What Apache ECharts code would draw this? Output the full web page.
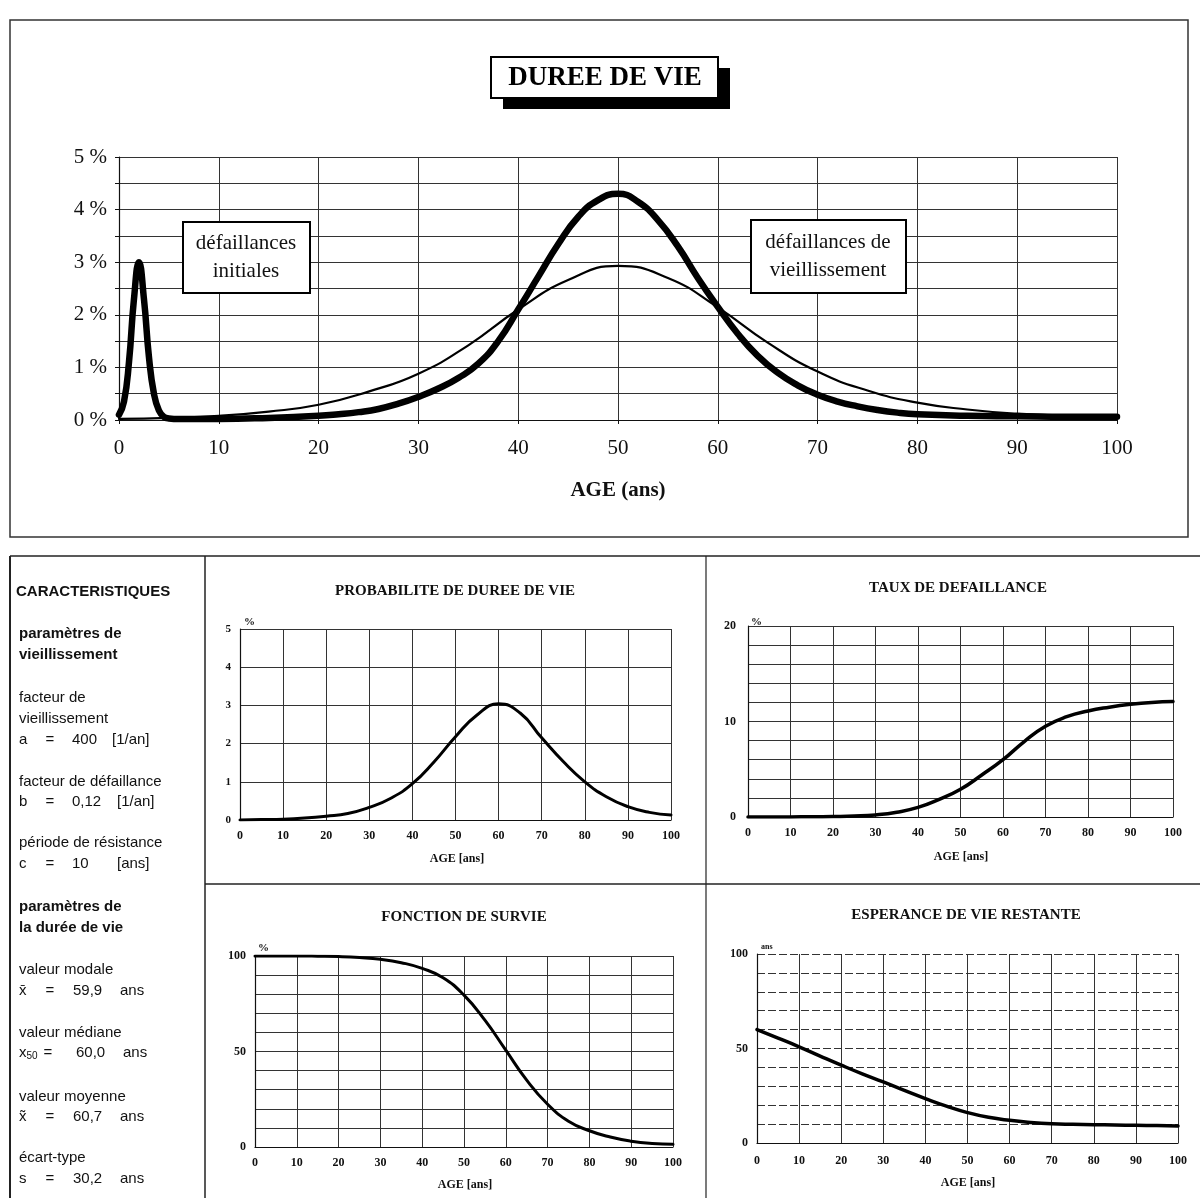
<!DOCTYPE html>
<html><head><meta charset="utf-8">
<script src="https://cdn.jsdelivr.net/npm/echarts@6/dist/echarts.min.js"></script>
<style>html,body{margin:0;padding:0;background:#fff}#c{width:1200px;height:1198px}</style>
</head><body><div id="c"></div><script>
const SERIF = "'Liberation Serif','Times New Roman',serif";
const SANS = "'Liberation Sans',Arial,sans-serif";

// ---- Top chart: DUREE DE VIE ----
const topThickAges = [0,0.5,1,1.5,2,2.5,3,3.5,4,4.5,5,6,8,10,15,20,22,24,26,28,30,32,34,36,38,40,42,44,46,48,50,52,54,56,58,60,62,64,66,68,70,72,74,76,78,80,85,90,95,100];
const topThickValues = [0.1,0.35,1.1,2.3,3.0,2.3,1.2,0.5,0.18,0.06,0.03,0.02,0.02,0.02,0.04,0.08,0.11,0.15,0.21,0.31,0.44,0.6,0.8,1.07,1.5,2.1,2.72,3.34,3.86,4.18,4.3,4.15,3.8,3.3,2.7,2.15,1.64,1.22,0.9,0.66,0.48,0.35,0.26,0.19,0.14,0.11,0.08,0.07,0.06,0.06];
const topThinAges = [0,5,10,15,20,25,30,35,40,45,50,55,60,65,70,75,80,85,90,95,100];
const topThinValues = [0.02,0.04,0.08,0.16,0.29,0.54,0.88,1.42,2.1,2.66,2.93,2.7,2.14,1.47,0.92,0.56,0.33,0.2,0.12,0.08,0.06];

// ---- Small charts ----
const smallAges = [0,5,10,15,20,25,30,35,40,45,50,55,60,65,70,75,80,85,90,95,100];
const probValues = [0,0.01,0.02,0.05,0.1,0.17,0.33,0.57,0.95,1.52,2.18,2.75,3.04,2.8,2.15,1.53,1.0,0.61,0.35,0.2,0.13];
const tauxValues = [0,0,0.01,0.02,0.05,0.1,0.22,0.5,1.0,1.85,2.9,4.4,6.0,7.9,9.5,10.5,11.1,11.5,11.8,12.0,12.1];
const survieValues = [100,100,100,99.9,99.7,99.2,98.3,96.5,93.5,88.6,79.5,66.4,50.7,35,22.4,13.5,8.5,5.2,3,1.8,1.4];
const esperanceValues = [60,55.5,50.9,46,41.2,36.6,32.3,27.8,23.5,19.5,16.1,13.6,12,10.9,10.2,9.9,9.7,9.5,9.4,9.2,9.0];

const zip = (xs, ys) => xs.map((x, i) => [x, ys[i]]);

const chart = echarts.init(document.getElementById('c'), null, {renderer: 'canvas'});

function xAx(grid, fontSize, bold, margin, tick) {
  return {
    type: 'value', gridIndex: grid, min: 0, max: 100, interval: 10,
    axisLine: {show: true, lineStyle: {color: '#111', width: 1.2}},
    axisTick: {show: tick, length: 4, lineStyle: {color: '#111'}},
    splitLine: {show: true, lineStyle: {color: '#333', width: 1}},
    axisLabel: {color: '#111', fontFamily: SERIF, fontSize: fontSize, fontWeight: bold ? 'bold' : 'normal', margin: margin}
  };
}
function yAx(grid, max, interval, labelEvery, fontSize, bold, margin, suffix, tick, dashed) {
  return {
    type: 'value', gridIndex: grid, min: 0, max: max, interval: interval,
    axisLine: {show: true, lineStyle: {color: '#111', width: 1.2}},
    axisTick: {show: tick, length: 4, lineStyle: {color: '#111'}},
    splitLine: {show: true, lineStyle: {color: '#333', width: 1, type: dashed ? [8, 3] : 'solid'}},
    axisLabel: {
      color: '#111', fontFamily: SERIF, fontSize: fontSize, fontWeight: bold ? 'bold' : 'normal', margin: margin,
      formatter: v => (Math.abs(v / labelEvery - Math.round(v / labelEvery)) < 1e-6) ? (v + suffix) : ''
    }
  };
}
function line(x, y, data, width) {
  return {
    type: 'line', xAxisIndex: x, yAxisIndex: y, data: data, smooth: 0.5,
    showSymbol: false, symbol: 'none', silent: true,
    lineStyle: {color: '#000', width: width, join: 'round', cap: 'round'}, z: 3
  };
}

function txt(x, y, text, opts) {
  opts = opts || {};
  return {
    type: 'text', x: x, y: y, z: opts.z || 20, silent: true,
    style: {
      text: text, fill: opts.fill || '#111',
      font: opts.font || ('15px ' + SANS),
      textAlign: opts.align || 'left', textVerticalAlign: 'middle', verticalAlign: 'middle',
      lineHeight: opts.lineHeight, rich: opts.rich
    }
  };
}
function rect(x, y, w, h, fill, stroke, lw, z) {
  return {type: 'rect', z: z || 10, silent: true, shape: {x: x, y: y, width: w, height: h},
    style: {fill: fill, stroke: stroke, lineWidth: lw || 0}};
}
function seg(x1, y1, x2, y2, lw) {
  return {type: 'line', z: 15, silent: true, shape: {x1: x1, y1: y1, x2: x2, y2: y2}, style: {stroke: '#222', lineWidth: lw || 1.5}};
}

const titleFont = 'bold 15px ' + SERIF;
const smallLbl = 'bold 12px ' + SERIF;

const graphics = [
  rect(10, 20, 1178, 517, 'none', '#333', 1.5, 1),
  rect(503, 68, 227, 41, '#000', null, 0, 10),
  rect(491, 57, 227, 41, '#fff', '#000', 2, 11),
  txt(605, 78, 'DUREE DE VIE', {font: 'bold 27px ' + SERIF, align: 'center', z: 12, fill: '#000'}),
  rect(183, 222, 127, 71, '#fff', '#000', 2, 11),
  txt(246, 257, 'défaillances\ninitiales', {font: '21px ' + SERIF, align: 'center', lineHeight: 28, z: 12}),
  rect(751, 220, 155, 73, '#fff', '#000', 2, 11),
  txt(828, 256, 'défaillances de\nvieillissement', {font: '21px ' + SERIF, align: 'center', lineHeight: 28, z: 12}),

  seg(10, 556, 1200, 556, 1.5),
  seg(10, 556, 10, 1198, 2),
  seg(205, 556, 205, 1198, 1.5),
  seg(706, 556, 706, 1198, 1.2),
  seg(205, 884, 1200, 884, 1.5),

  txt(16, 592, 'CARACTERISTIQUES', {font: 'bold 15px ' + SANS}),
  txt(19, 634, 'paramètres de', {font: 'bold 15px ' + SANS}),
  txt(19, 655, 'vieillissement', {font: 'bold 15px ' + SANS}),
  txt(19, 698, 'facteur de'),
  txt(19, 719, 'vieillissement'),
  txt(19, 740, 'a'), txt(50, 740, '=', {align: 'center'}), txt(72, 740, '400'), txt(112, 740, '[1/an]'),
  txt(19, 782, 'facteur de défaillance'),
  txt(19, 802, 'b'), txt(50, 802, '=', {align: 'center'}), txt(72, 802, '0,12'), txt(117, 802, '[1/an]'),
  txt(19, 843, 'période de résistance'),
  txt(19, 864, 'c'), txt(50, 864, '=', {align: 'center'}), txt(72, 864, '10'), txt(117, 864, '[ans]'),
  txt(19, 907, 'paramètres de', {font: 'bold 15px ' + SANS}),
  txt(19, 928, 'la durée de vie', {font: 'bold 15px ' + SANS}),
  txt(19, 970, 'valeur modale'),
  txt(19, 991, 'x̄'), txt(50, 991, '=', {align: 'center'}), txt(73, 991, '59,9'), txt(120, 991, 'ans'),
  txt(19, 1033, 'valeur médiane'),
  txt(19, 1053, '{a|x}{s|50}', {rich: {a: {font: '15px ' + SANS, fill: '#111'}, s: {font: '10px ' + SANS, fill: '#111', verticalAlign: 'bottom', padding: [6, 0, 0, 0]}}}),
  txt(48, 1053, '=', {align: 'center'}), txt(76, 1053, '60,0'), txt(123, 1053, 'ans'),
  txt(19, 1097, 'valeur moyenne'),
  txt(19, 1117, 'x̃'), txt(50, 1117, '=', {align: 'center'}), txt(73, 1117, '60,7'), txt(120, 1117, 'ans'),
  txt(19, 1158, 'écart-type'),
  txt(19, 1179, 's'), txt(50, 1179, '=', {align: 'center'}), txt(73, 1179, '30,2'), txt(120, 1179, 'ans'),

  txt(455, 591, 'PROBABILITE DE DUREE DE VIE', {font: titleFont, align: 'center'}),
  txt(244, 622, '%', {font: 'bold 11px ' + SERIF}),
  txt(457, 859, 'AGE [ans]', {font: smallLbl, align: 'center'}),

  txt(958, 588, 'TAUX DE DEFAILLANCE', {font: titleFont, align: 'center'}),
  txt(751, 622, '%', {font: 'bold 11px ' + SERIF}),
  txt(961, 857, 'AGE [ans]', {font: smallLbl, align: 'center'}),

  txt(464, 917, 'FONCTION DE SURVIE', {font: titleFont, align: 'center'}),
  txt(258, 948, '%', {font: 'bold 11px ' + SERIF}),
  txt(465, 1185, 'AGE [ans]', {font: smallLbl, align: 'center'}),

  txt(966, 915, 'ESPERANCE DE VIE RESTANTE', {font: titleFont, align: 'center'}),
  txt(761, 947, 'ans', {font: 'bold 8px ' + SERIF}),
  txt(968, 1183, 'AGE [ans]', {font: smallLbl, align: 'center'})
];

chart.setOption({
  animation: false,
  backgroundColor: '#fff',
  grid: [
    {left: 119, top: 157, width: 998, height: 263},
    {left: 240, top: 629, width: 431, height: 191},
    {left: 748, top: 626, width: 425, height: 191},
    {left: 255, top: 956, width: 418, height: 191},
    {left: 757, top: 954, width: 421, height: 189}
  ],
  xAxis: [
    Object.assign(xAx(0, 21, false, 18, true), {
      name: 'AGE (ans)', nameLocation: 'middle', nameGap: 60,
      nameTextStyle: {fontFamily: SERIF, fontSize: 21, fontWeight: 'bold', color: '#111'}
    }),
    xAx(1, 12, true, 10, false),
    xAx(2, 12, true, 10, false),
    xAx(3, 12, true, 10, false),
    xAx(4, 12, true, 12, false)
  ],
  yAxis: [
    yAx(0, 5, 0.5, 1, 21, false, 12, ' %', true, false),
    yAx(1, 5, 1, 1, 11, true, 9, '', false, false),
    yAx(2, 20, 2, 10, 12, true, 12, '', false, false),
    yAx(3, 100, 10, 50, 12, true, 9, '', false, false),
    yAx(4, 100, 10, 50, 12, true, 9, '', false, true)
  ],
  series: [
    line(0, 0, zip(topThinAges, topThinValues), 2.2),
    line(0, 0, zip(topThickAges, topThickValues), 6.5),
    line(1, 1, zip(smallAges, probValues), 3),
    line(2, 2, zip(smallAges, tauxValues), 3.5),
    line(3, 3, zip(smallAges, survieValues), 3),
    line(4, 4, zip(smallAges, esperanceValues), 3.5)
  ],
  graphic: graphics
});
</script></body></html>
